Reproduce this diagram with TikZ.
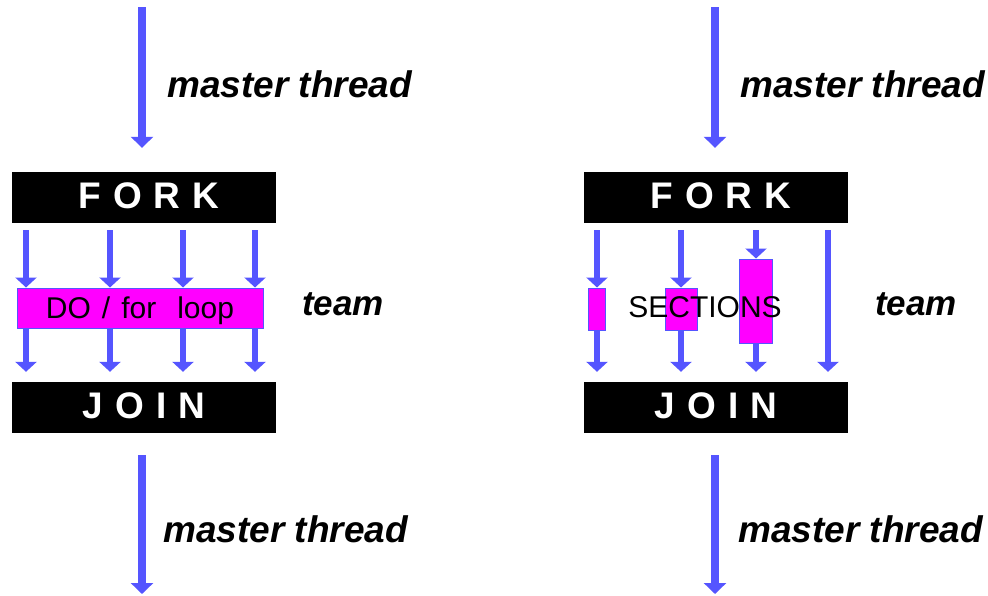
\documentclass[tikz,border=0pt]{standalone}
\usepackage{fontspec}
\setmainfont{Liberation Sans}
\usetikzlibrary{arrows.meta}
\definecolor{threadblue}{RGB}{85,85,255}
\definecolor{workpink}{RGB}{255,0,255}

\begin{document}
\begin{tikzpicture}[x=1pt,y=-1pt,
  master/.style={draw=threadblue, line width=8.5pt, -{Triangle[width=22pt,length=11pt]}},
  worker/.style={draw=threadblue, line width=6pt, -{Triangle[width=21pt,length=10pt]}},
  bar/.style={fill=black, minimum width=264pt, minimum height=51pt, inner sep=0pt,
    text=white, font=\fontsize{37}{37}\selectfont\bfseries, text depth=0pt},
  chunk/.style={fill=workpink, draw=threadblue, line width=1pt, inner sep=0pt},
  mtext/.style={font=\fontsize{37}{37}\selectfont\bfseries\itshape, inner sep=0pt, anchor=base west},
  teamtext/.style={font=\fontsize{35}{35}\selectfont\bfseries\itshape, inner sep=0pt, anchor=base west}
]
\fill[white] (0,0) rectangle (988,595);
\useasboundingbox (0,0) rectangle (988,595);

% ---------- left: DO / for loop ----------
\node[bar, text height=21.6pt] (forkL) at (144,197.5)
  {\hspace*{10pt}F\hspace{12pt}O\hspace{12pt}R\hspace{12pt}K};
\node[bar, text height=21pt] (joinL) at (144,407.5)
  {J\hspace{12pt}O\hspace{12pt}I\hspace{12pt}N};
\node[chunk, minimum width=246pt, minimum height=40pt, text height=20pt, text depth=0pt,
  font=\fontsize{30}{30}\selectfont] (loopL) at (140,308)
  {\spaceskip=11pt DO / for\hspace{10pt} loop};

\coordinate (topL) at (142,7);
\coordinate (botL) at (142,594);
\draw[master, shorten >=24pt] (topL) -- (topL |- forkL.north);
\draw[master, shorten <=22pt] (topL |- joinL.south) -- (botL);

\foreach \x [count=\i] in {26,110,183,255} {
  \coordinate (cL\i) at (\x,0);
  \draw[worker, shorten <=7pt] (cL\i |- forkL.south) -- (cL\i |- loopL.north);
  \draw[worker, shorten >=10pt] (cL\i |- loopL.south) -- (cL\i |- joinL.north);
}

\node[mtext] (mL1) at (167,97) {master thread};
\node[mtext] (mL2) at (163,542) {master thread};
\node[teamtext] (teamL) at (302,315) {team};

% ---------- right: SECTIONS ----------
\node[bar, text height=21.6pt] (forkR) at (716,197.5)
  {\hspace*{10pt}F\hspace{12pt}O\hspace{12pt}R\hspace{12pt}K};
\node[bar, text height=21pt] (joinR) at (716,407.5)
  {J\hspace{12pt}O\hspace{12pt}I\hspace{12pt}N};

\node[chunk, minimum width=17pt, minimum height=42pt] (s1) at (597,309) {};
\node[chunk, minimum width=32pt, minimum height=42pt] (s2) at (681,309) {};
\node[chunk, minimum width=33pt, minimum height=84pt] (s3) at (756,301) {};

\foreach \s in {s1,s2,s3} {
  \draw[worker, shorten <=7pt] (\s.north |- forkR.south) -- (\s.north);
  \draw[worker, shorten >=10pt] (\s.south) -- (\s.south |- joinR.north);
}
\coordinate (c4) at (828,0);
\draw[worker, shorten <=7pt, shorten >=10pt] (c4 |- forkR.south) -- (c4 |- joinR.north);

\node[font=\fontsize{30}{30}\selectfont, anchor=base, inner sep=0pt] (sections) at (705,317) {SECTIONS};

\coordinate (topR) at (715,7);
\coordinate (botR) at (715,594);
\draw[master, shorten >=24pt] (topR) -- (topR |- forkR.north);
\draw[master, shorten <=22pt] (topR |- joinR.south) -- (botR);

\node[mtext] (mR1) at (740,97) {master thread};
\node[mtext] (mR2) at (738,542) {master thread};
\node[teamtext] (teamR) at (875,315) {team};
\end{tikzpicture}
\end{document}
